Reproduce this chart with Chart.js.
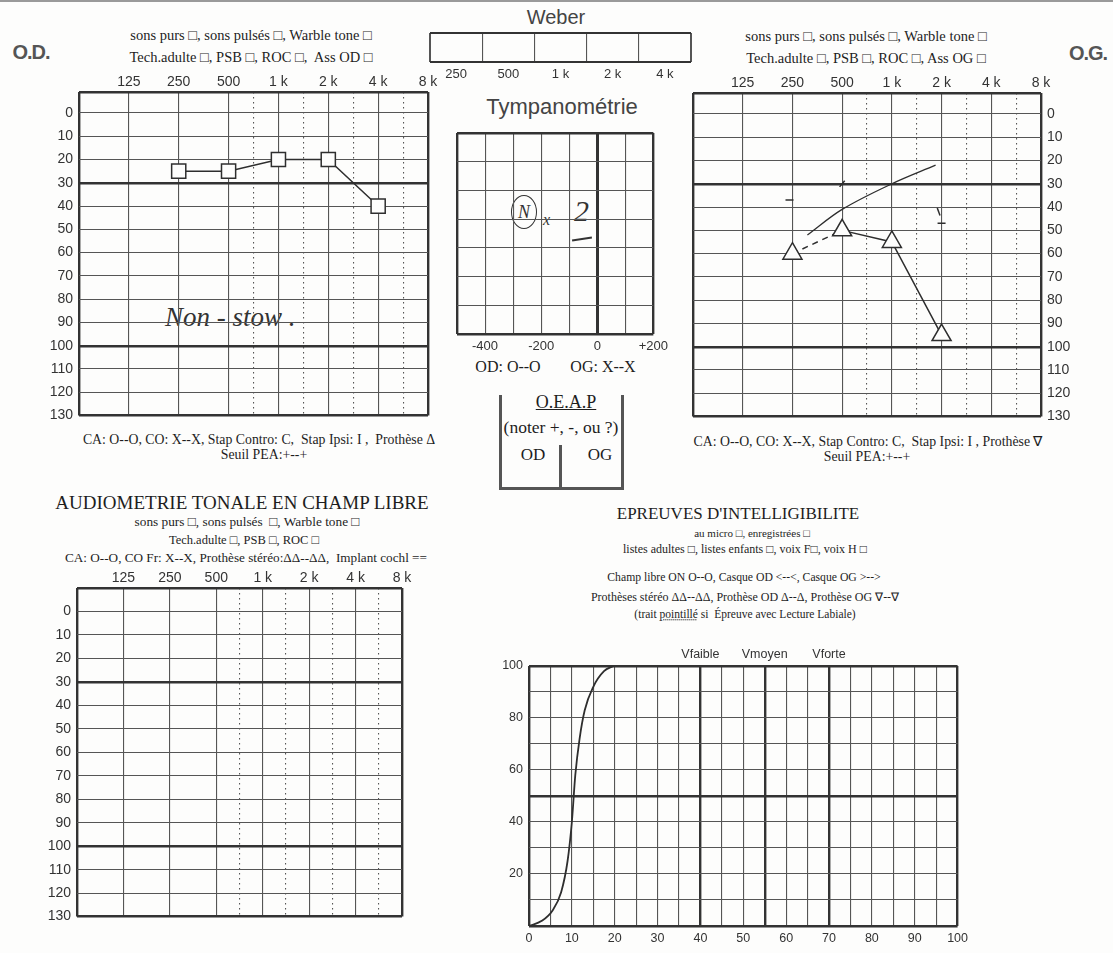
<!DOCTYPE html>
<html>
<head>
<meta charset="utf-8">
<script src="https://cdn.jsdelivr.net/npm/chart.js@4.4.1/dist/chart.umd.min.js"></script>
<style>
  body { margin: 0; width: 1113px; height: 953px; position: relative; overflow: hidden;
         background: #fdfdfc; font-family: "Liberation Serif", serif; color: #1e1e1e; }
  .box { position: absolute; }
  .t { position: absolute; transform: translate(-50%, -50%); white-space: nowrap; font-size: 13px; line-height: 1; }
  .sans { font-family: "Liberation Sans", sans-serif; color: #444; }
  .big { font-size: 17px; }
  .side { font-family: "Liberation Sans", sans-serif; font-weight: bold; font-size: 20px; color: #555; letter-spacing: -1px; }
  .hand { position: absolute; font-family: "Liberation Serif", serif; font-style: italic; color: #333; white-space: nowrap; line-height: 1; }
  .ln { position: absolute; background: #555; }
</style>
</head>
<body>
<div class="ln" style="left:0;top:0;width:1113px;height:2px;background:#9a9a9a"></div>

<div class="t side" style="left:31px;top:52px">O.D.</div>
<div class="t side" style="left:1088px;top:53px">O.G.</div>

<div class="t" style="left:251px;top:35px;font-size:14.5px">sons purs □, sons pulsés □, Warble tone □</div>
<div class="t" style="left:251px;top:57px;font-size:14.5px">Tech.adulte □, PSB □, ROC □,&nbsp; Ass OD □</div>
<div class="t" style="left:866px;top:36px;font-size:14.5px">sons purs □, sons pulsés □, Warble tone □</div>
<div class="t" style="left:866px;top:58px;font-size:14.5px">Tech.adulte □, PSB □, ROC □, Ass OG □</div>

<div class="t sans" style="left:556px;top:17px;font-size:20px">Weber</div>
<div class="t sans" style="left:562px;top:107px;font-size:22px">Tympanométrie</div>

<div class="t" style="left:259px;top:440px;font-size:13.8px">CA: O--O, CO: X--X, Stap Contro: C,&nbsp; Stap Ipsi: I ,&nbsp; Prothèse Δ</div>
<div class="t" style="left:264px;top:455px;font-size:13.8px">Seuil PEA:+--+</div>
<div class="t" style="left:868px;top:442px;font-size:13.8px">CA: O--O, CO: X--X, Stap Contro: C,&nbsp; Stap Ipsi: I , Prothèse ∇</div>
<div class="t" style="left:867px;top:457px;font-size:13.8px">Seuil PEA:+--+</div>

<div class="t" style="left:508px;top:367px;font-size:16px">OD: O--O</div>
<div class="t" style="left:603px;top:367px;font-size:16px">OG: X--X</div>

<!-- O.E.A.P box -->
<div class="ln" style="left:499px;top:395px;width:3px;height:95px"></div>
<div class="ln" style="left:621px;top:395px;width:3px;height:95px"></div>
<div class="ln" style="left:499px;top:487px;width:125px;height:3px"></div>
<div class="ln" style="left:559px;top:445px;width:3px;height:44px"></div>
<div class="t" style="left:566px;top:402px;font-size:18px;text-decoration:underline">O.E.A.P</div>
<div class="t" style="left:561px;top:428px;font-size:17.5px">(noter +, -, ou ?)</div>
<div class="t" style="left:533px;top:454px;font-size:17px">OD</div>
<div class="t" style="left:600px;top:454px;font-size:17px">OG</div>

<div class="t big" style="left:242px;top:502px;font-size:19px">AUDIOMETRIE TONALE EN CHAMP LIBRE</div>
<div class="t" style="left:247px;top:522px;font-size:13.3px">sons purs □, sons pulsés&nbsp; □, Warble tone □</div>
<div class="t" style="left:244px;top:540px;font-size:12.5px">Tech.adulte □, PSB □, ROC □</div>
<div class="t" style="left:246px;top:558px;font-size:13.2px">CA: O--O, CO Fr: X--X, Prothèse stéréo:ΔΔ--ΔΔ,&nbsp; Implant cochl ==</div>

<div class="t big" style="left:738px;top:513px">EPREUVES D'INTELLIGIBILITE</div>
<div class="t" style="left:752px;top:533px;font-size:11px">au micro □, enregistrées □</div>
<div class="t" style="left:745px;top:549px;font-size:12px">listes adultes □, listes enfants □, voix F□, voix H □</div>
<div class="t" style="left:744px;top:578px;font-size:11.7px">Champ libre ON O--O, Casque OD &lt;--&lt;, Casque OG &gt;--&gt;</div>
<div class="t" style="left:745px;top:597px;font-size:12px">Prothèses stéréo ΔΔ--ΔΔ, Prothèse OD Δ--Δ, Prothèse OG ∇--∇</div>
<div class="t" style="left:745px;top:615px;font-size:11.5px">(trait <span style="text-decoration:underline dotted">pointillé</span> si&nbsp; Épreuve avec Lecture Labiale)</div>

<!-- handwriting -->
<div class="hand" style="left:165px;top:304px;font-size:27px">Non - stow .</div>
<div class="hand" style="left:511px;top:195px;width:24px;height:32px;border:1.5px solid #333;border-radius:50%;font-size:18px;text-align:center;line-height:32px">N</div>
<div class="hand" style="left:543px;top:212px;font-size:16px">x</div>
<div class="hand" style="left:574px;top:196px;font-size:30px">2</div>
<div class="ln" style="left:572px;top:238px;width:20px;height:2px;background:#333;transform:rotate(-8deg)"></div>

<div class="box" style="left:425px;top:31px;width:271px;height:55px"><canvas id="weber"></canvas></div>
<div class="box" style="left:452px;top:131px;width:221px;height:225px"><canvas id="tymp"></canvas></div>
<div class="box" style="left:34px;top:70px;width:408px;height:360px"><canvas id="od"></canvas></div>
<div class="box" style="left:679px;top:71px;width:407px;height:360px"><canvas id="og"></canvas></div>
<div class="box" style="left:32px;top:566px;width:384px;height:365px"><canvas id="libre"></canvas></div>
<div class="box" style="left:489px;top:644px;width:484px;height:304px"><canvas id="speech"></canvas></div>

<script>
// audiogram axes
const freqLabels = ['125', '250', '500', '1 k', '2 k', '4 k', '8 k']
const octaveTicks = [-1, 0, 1, 2, 2.5, 3, 3.5, 4, 4.5, 5, 5.5, 6]
const dbTicks = [0, 10, 20, 30, 40, 50, 60, 70, 80, 90, 100, 110, 120, 130]

// O.D. squares
const odFreq = [250, 500, 1000, 2000, 4000]
const odDb = [25, 25, 20, 20, 40]

// O.G. triangles + hand drawn line and marks
const ogFreq = [250, 500, 1000, 2000]
const ogDb = [60, 50, 55, 95]
const ogCurveFreq = [308, 500, 1000, 1840]
const ogCurveDb = [52, 41, 30, 22]
const ogMarkFreq = [240, 500, 1920, 2000]
const ogMarkDb = [37, 30, 42, 47]

// weber / tympanometrie
const weberLabels = ['250', '500', '1 k', '2 k', '4 k']
const tympTicks = [-500, -400, -300, -200, -100, 0, 100, 200]
const tympLabels = ['', '-400', '', '-200', '', '0', '', '+200']

// intelligibilite
const speechTicks = [0, 5, 10, 15, 20, 25, 30, 35, 40, 45, 50, 55, 60, 65, 70, 75, 80, 85, 90, 95, 100]
const scoreTicks = [0, 10, 20, 30, 40, 50, 60, 70, 80, 90, 100]
const voiceLabels = ['Vfaible', 'Vmoyen', 'Vforte']
const voiceAt = [40, 55, 70]
const speechDb = [0, 3, 5.5, 7.5, 9, 10, 10.8, 11.8, 13, 15, 17.5, 19.7]
const speechPct = [0, 2, 6, 13, 25, 40, 58, 72, 83, 92, 98, 100]

const ink = '#2e2e2e'
const paper = '#fdfdfc'
const thin = '#555'
const thick = '#333'
const tickFont = { family: 'Liberation Sans', size: 14 }

const oct = f => Math.log2(f / 125)
const setTicks = vals => s => { s.ticks = vals.map(v => ({ value: v })) }
const isThick = list => c => c.tick && list.includes(c.tick.value)
const widthOf = (list, w) => c => isThick(list)(c) ? (w || 2.4) : 1.1
const colorOf = list => c => isThick(list)(c) ? thick : thin

const base = {
    animation: false,
    responsive: true,
    maintainAspectRatio: false,
    events: [],
    plugins: { legend: { display: false }, tooltip: { enabled: false } }
}

function audiogram(id, side, minDb, sets) {
    const yThick = [minDb, 30, 100, 130]
    const xThick = [-1, 6]
    return new Chart(document.getElementById(id), {
        type: 'scatter',
        data: { datasets: sets },
        options: Object.assign({}, base, {
            layout: { autoPadding: false, padding: side === 'left' ? { right: 14, bottom: 3 } : { left: 14, bottom: 3 } },
            scales: {
                x: {
                    type: 'linear', position: 'top', min: -1, max: 6,
                    afterBuildTicks: setTicks(octaveTicks),
                    afterFit: s => { s.height = 22 },
                    ticks: {
                        padding: 1, autoSkip: false, maxRotation: 0, font: tickFont, color: '#333',
                        callback: v => (Number.isInteger(v) && v >= 0) ? freqLabels[v] : ''
                    },
                    grid: { drawTicks: false, lineWidth: widthOf(xThick), color: colorOf(xThick) },
                    border: { display: false, dash: c => (c.tick && c.tick.value % 1) ? [1.5, 3.5] : [] }
                },
                y: {
                    type: 'linear', position: side, reverse: true, min: minDb, max: 130,
                    afterBuildTicks: setTicks([minDb].concat(dbTicks)),
                    afterFit: s => { s.width = 45 },
                    ticks: { padding: 6, autoSkip: false, font: tickFont, color: '#333', callback: v => v < 0 ? '' : v },
                    grid: { drawTicks: false, lineWidth: widthOf(yThick), color: colorOf(yThick) },
                    border: { display: false }
                }
            }
        })
    })
}

audiogram('od', 'left', -9, [{
    data: odFreq.map((f, i) => ({ x: oct(f), y: odDb[i] })),
    showLine: true, borderColor: ink, borderWidth: 1.5,
    pointStyle: 'rect', pointRadius: 10, pointBorderWidth: 1.5,
    pointBorderColor: ink, pointBackgroundColor: paper
}])

audiogram('og', 'right', -9, [{
    data: ogCurveFreq.map((f, i) => ({ x: oct(f), y: ogCurveDb[i] })),
    showLine: true, borderColor: ink, borderWidth: 1.3, pointRadius: 0, tension: 0.35
}, {
    data: ogMarkFreq.map((f, i) => ({ x: oct(f), y: ogMarkDb[i] })),
    showLine: false, pointStyle: 'line', pointRadius: 4, pointBorderWidth: 1.5,
    pointBorderColor: ink, pointRotation: [0, -50, 70, 0]
}, {
    data: ogFreq.map((f, i) => ({ x: oct(f), y: ogDb[i] })),
    showLine: true, borderColor: ink, borderWidth: 1.5,
    segment: { borderDash: c => c.p0DataIndex === 0 ? [6, 5] : undefined },
    pointStyle: 'triangle', pointRadius: 11, pointBorderWidth: 1.5,
    pointBorderColor: ink, pointBackgroundColor: paper
}])

audiogram('libre', 'left', -10, [])

// Weber row of cells
new Chart(document.getElementById('weber'), {
    type: 'scatter',
    data: { datasets: [] },
    options: Object.assign({}, base, {
        layout: { autoPadding: false, padding: { left: 2, right: 2, top: 2 } },
        scales: {
            x: {
                type: 'linear', position: 'bottom', min: 0, max: 5,
                afterBuildTicks: setTicks([0, 0.5, 1, 1.5, 2, 2.5, 3, 3.5, 4, 4.5, 5]),
                afterFit: s => { s.height = 24 },
                ticks: {
                    padding: 5, autoSkip: false, maxRotation: 0, color: '#333',
                    font: { family: 'Liberation Sans', size: 13 },
                    callback: v => v % 1 ? weberLabels[Math.floor(v)] : ''
                },
                grid: {
                    drawTicks: false,
                    color: c => (c.tick && c.tick.value % 1) ? 'rgba(0,0,0,0)' : thin,
                    lineWidth: widthOf([0, 5], 2)
                },
                border: { display: false }
            },
            y: {
                type: 'linear', min: 0, max: 1,
                afterBuildTicks: setTicks([0, 1]),
                afterFit: s => { s.width = 0 },
                ticks: { display: false },
                grid: { drawTicks: false, color: thick, lineWidth: 2 },
                border: { display: false }
            }
        }
    })
})

// Tympanometrie grid
new Chart(document.getElementById('tymp'), {
    type: 'scatter',
    data: { datasets: [] },
    options: Object.assign({}, base, {
        layout: { autoPadding: false, padding: { left: 2, right: 16, top: 2 } },
        scales: {
            x: {
                type: 'linear', position: 'bottom', min: -500, max: 200,
                afterBuildTicks: setTicks(tympTicks),
                afterFit: s => { s.height = 22 },
                ticks: {
                    padding: 5, autoSkip: false, maxRotation: 0, color: '#333',
                    font: { family: 'Liberation Sans', size: 13 },
                    callback: (v, i) => tympLabels[i]
                },
                grid: { drawTicks: false, lineWidth: c => isThick([0])(c) ? 3 : widthOf([-500, 200])(c), color: colorOf([-500, 0, 200]) },
                border: { display: false }
            },
            y: {
                type: 'linear', min: 0, max: 7,
                afterBuildTicks: setTicks([0, 1, 2, 3, 4, 5, 6, 7]),
                afterFit: s => { s.width = 0 },
                ticks: { display: false },
                grid: { drawTicks: false, lineWidth: widthOf([0, 7]), color: colorOf([0, 7]) },
                border: { display: false }
            }
        }
    })
})

// Epreuves d'intelligibilite
new Chart(document.getElementById('speech'), {
    type: 'scatter',
    data: {
        datasets: [{
            data: speechDb.map((x, i) => ({ x: x, y: speechPct[i] })),
            showLine: true, borderColor: ink, borderWidth: 1.8, pointRadius: 0,
            cubicInterpolationMode: 'monotone'
        }]
    },
    options: Object.assign({}, base, {
        layout: { autoPadding: false, padding: { right: 15 } },
        scales: {
            x: {
                type: 'linear', position: 'bottom', min: 0, max: 100,
                afterBuildTicks: setTicks(speechTicks),
                afterFit: s => { s.height = 22 },
                ticks: {
                    padding: 5, autoSkip: false, maxRotation: 0, color: '#333',
                    font: { family: 'Liberation Sans', size: 12.5 },
                    callback: v => v % 10 === 0 ? v : ''
                },
                grid: { drawTicks: false, lineWidth: widthOf([0, 40, 55, 70, 100]), color: colorOf([0, 40, 55, 70, 100]) },
                border: { display: false }
            },
            x2: {
                type: 'linear', position: 'top', min: 0, max: 100,
                afterBuildTicks: setTicks(voiceAt),
                afterFit: s => { s.height = 22 },
                ticks: {
                    padding: 4, autoSkip: false, maxRotation: 0, color: '#333',
                    font: { family: 'Liberation Sans', size: 12.5 },
                    callback: (v, i) => voiceLabels[i]
                },
                grid: { display: false, drawTicks: false },
                border: { display: false }
            },
            y: {
                type: 'linear', min: 0, max: 100,
                afterBuildTicks: setTicks(scoreTicks),
                afterFit: s => { s.width = 40 },
                ticks: {
                    padding: 6, autoSkip: false, color: '#333',
                    font: { family: 'Liberation Sans', size: 12.5 },
                    callback: v => (v > 0 && v % 20 === 0) ? v : ''
                },
                grid: { drawTicks: false, lineWidth: widthOf([0, 50, 100]), color: colorOf([0, 50, 100]) },
                border: { display: false }
            }
        }
    })
})
</script>
</body>
</html>
